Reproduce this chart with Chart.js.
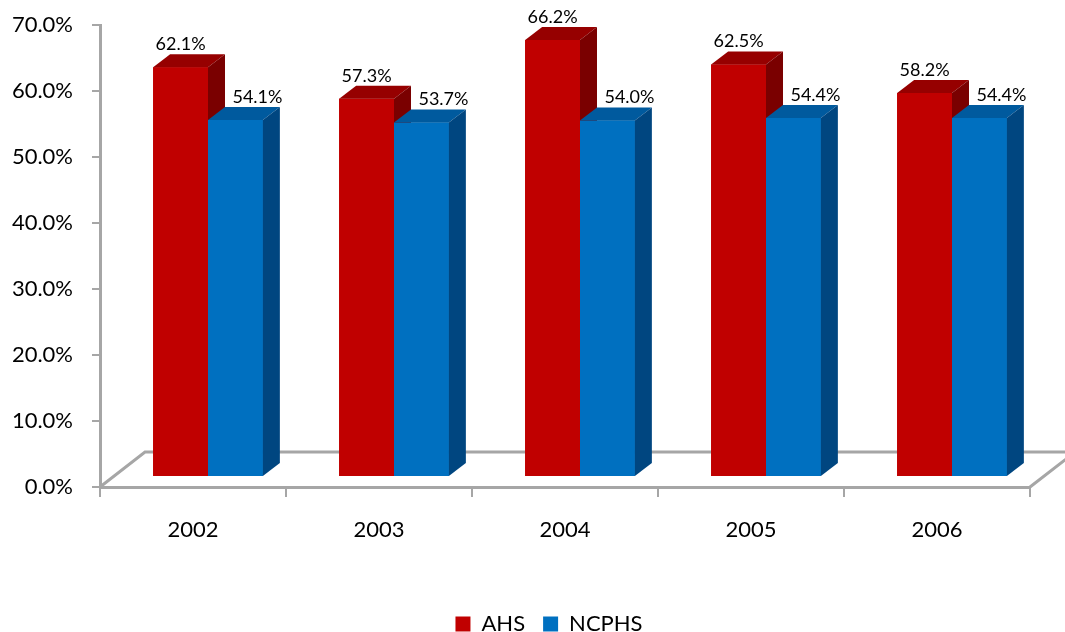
<!DOCTYPE html>
<html>
<head>
<meta charset="utf-8">
<script src="https://cdn.jsdelivr.net/npm/chart.js@4.4.0/dist/chart.umd.min.js"></script>
<style>
  html, body { margin: 0; padding: 0; background: #fff; }
  #wrap { width: 1065px; height: 632px; position: relative; }
</style>
</head>
<body>
<div id="wrap"><canvas id="chart"></canvas></div>
<script>
// --- Data ---
const years = ['2002', '2003', '2004', '2005', '2006'];
const ahsValues = [62.1, 57.3, 66.2, 62.5, 58.2];
const ncphsValues = [54.1, 53.7, 54.0, 54.4, 54.4];
const yMin = 0;
const yMax = 70;
const yStep = 10;

// --- Look ---
const FONT = 'Lato, "Open Sans", sans-serif';
const AXIS_GREY = '#a6a6a6';
const DEPTH = { dx: 17, dy: -13 };   // depth of each bar
const SHIFT = { dx: 15, dy: -10 };   // bars stand a little behind the front edge
const FLOOR = { dx: 45, dy: -35 };   // depth of the floor
const faceColors = [
  { top: '#960000', side: '#7a0000', labelDx: 0 },
  { top: '#005a9e', side: '#004680', labelDx: 22 }
];

// draws the floor, the top/side faces of the bars and the value labels
const bars3d = {
  id: 'bars3d',
  beforeDatasetsDraw(chart) {
    const { ctx, chartArea: a } = chart;
    ctx.save();
    ctx.strokeStyle = AXIS_GREY;
    ctx.lineWidth = 3;
    ctx.beginPath();
    ctx.moveTo(a.left, a.bottom);
    ctx.lineTo(a.left + FLOOR.dx, a.bottom + FLOOR.dy);
    ctx.lineTo(a.right + FLOOR.dx, a.bottom + FLOOR.dy);
    ctx.moveTo(a.right, a.bottom);
    ctx.lineTo(a.right + FLOOR.dx, a.bottom + FLOOR.dy);
    ctx.stroke();
    ctx.restore();

    ctx.save();
    ctx.translate(SHIFT.dx, SHIFT.dy);
  },
  afterDatasetsDraw(chart) {
    const ctx = chart.ctx;
    // go again over the bars, left series first, so that each front
    // covers the side face of its left neighbour
    chart.data.datasets.forEach((ds, i) => {
      const c = faceColors[i];
      chart.getDatasetMeta(i).data.forEach(bar => {
        bar.draw(ctx);
        const l = bar.x - bar.width / 2;
        const r = bar.x + bar.width / 2;
        const t = bar.y;
        const b = bar.base;
        // top
        ctx.fillStyle = c.top;
        ctx.beginPath();
        ctx.moveTo(l, t);
        ctx.lineTo(l + DEPTH.dx, t + DEPTH.dy);
        ctx.lineTo(r + DEPTH.dx, t + DEPTH.dy);
        ctx.lineTo(r, t);
        ctx.closePath();
        ctx.fill();
        // side
        ctx.fillStyle = c.side;
        ctx.beginPath();
        ctx.moveTo(r, t);
        ctx.lineTo(r + DEPTH.dx, t + DEPTH.dy);
        ctx.lineTo(r + DEPTH.dx, b + DEPTH.dy);
        ctx.lineTo(r, b);
        ctx.closePath();
        ctx.fill();
      });
    });
    ctx.restore();

    // value labels
    ctx.save();
    ctx.font = '18px ' + FONT;
    ctx.fillStyle = '#000';
    ctx.textAlign = 'center';
    ctx.textBaseline = 'middle';
    chart.data.datasets.forEach((ds, i) => {
      chart.getDatasetMeta(i).data.forEach((bar, j) => {
        const x = bar.x + SHIFT.dx + faceColors[i].labelDx;
        const y = bar.y + SHIFT.dy - 23;
        ctx.fillText(ds.data[j].toFixed(1) + '%', x, y);
      });
    });
    ctx.restore();
  }
};

const ctx = document.getElementById('chart').getContext('2d');
new Chart(ctx, {
  type: 'bar',
  data: {
    labels: years,
    datasets: [
      { label: 'AHS', data: ahsValues, backgroundColor: '#c00000', clip: false },
      { label: 'NCPHS', data: ncphsValues, backgroundColor: '#0070c0', clip: false }
    ]
  },
  options: {
    responsive: true,
    maintainAspectRatio: false,
    animation: false,
    datasets: {
      bar: { categoryPercentage: 0.59, barPercentage: 1.0, borderWidth: 0 }
    },
    layout: { padding: { left: 0, right: -33, top: 25, bottom: -13 } },
    plugins: {
      legend: {
        position: 'bottom',
        labels: {
          boxWidth: 15,
          boxHeight: 15,
          padding: 18,
          color: '#000',
          font: { family: FONT, size: 22 }
        }
      },
      tooltip: { enabled: false }
    },
    scales: {
      x: {
        grid: {
          drawOnChartArea: false,
          drawTicks: true,
          tickLength: 10,
          color: AXIS_GREY,
          lineWidth: 2
        },
        border: { display: true, color: AXIS_GREY, width: 3 },
        ticks: { color: '#000', padding: 20, font: { family: FONT, size: 22 } },
        afterFit(scale) { scale.height = 108; }
      },
      y: {
        min: yMin,
        max: yMax,
        grid: {
          drawOnChartArea: false,
          drawTicks: true,
          tickLength: 8,
          color: AXIS_GREY,
          lineWidth: 2
        },
        border: { display: true, color: AXIS_GREY, width: 3 },
        ticks: {
          stepSize: yStep,
          padding: 19,
          color: '#000',
          font: { family: FONT, size: 22, lineHeight: 0.5 },
          callback: v => v.toFixed(1) + '%'
        },
        afterFit(scale) { scale.width = 100; }
      },
      yRight: {
        position: 'right',
        grid: { display: false },
        border: { display: false },
        ticks: { display: false },
        afterFit(scale) { scale.width = 68; }
      }
    }
  },
  plugins: [bars3d]
});
</script>
</body>
</html>
